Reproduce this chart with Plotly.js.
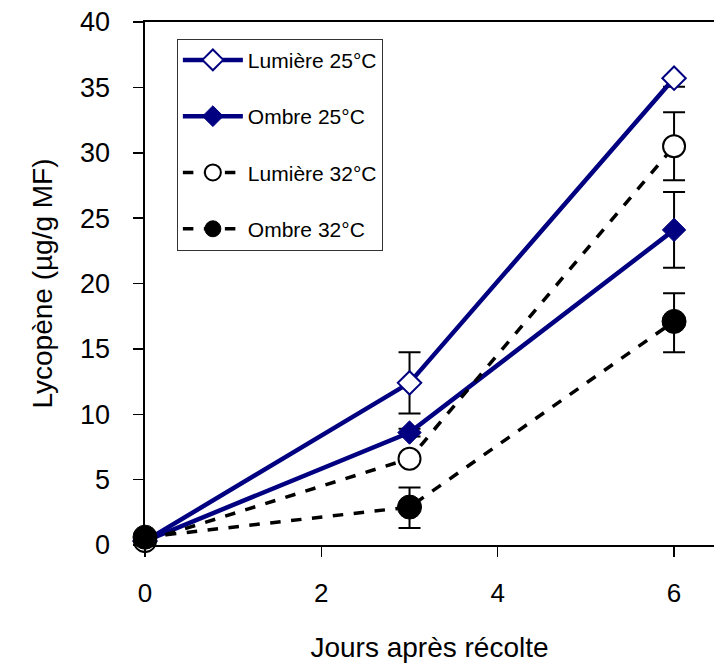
<!DOCTYPE html>
<html>
<head>
<meta charset="utf-8">
<script src="https://cdn.plot.ly/plotly-3.0.1.min.js"></script>
<style>html,body{margin:0;padding:0;background:#fff;}#chart{width:714px;height:668px;}</style>
</head>
<body>
<div id="chart"></div>
<script>
const days = [0, 3, 6];
const seriesNames = ["Lumière 25°C", "Ombre 25°C", "Lumière 32°C", "Ombre 32°C"];
const lumiere25 = [0.3, 12.4, 35.7];
const ombre25 = [0.3, 8.6, 24.1];
const lumiere32 = [0.3, 6.6, 30.5];
const ombre32 = [0.6, 2.9, 17.1];
const errUpLumiere25 = [0, 2.35, 0];
const errDownLumiere25 = [0, 2.35, 0.65];
const errUpOmbre25 = [0, 0.3, 2.9];
const errDownOmbre25 = [0, 0.3, 2.9];
const errUpLumiere32 = [0, 0.2, 2.6];
const errDownLumiere32 = [0, 0.2, 2.6];
const errUpOmbre32 = [0, 1.5, 2.15];
const errDownOmbre32 = [0, 1.6, 2.35];
const xTicks = [0, 2, 4, 6];
const yTicks = [0, 5, 10, 15, 20, 25, 30, 35, 40];

const navy = "#000080";
const font = "Liberation Sans, Arial, sans-serif";

function mk(name, y, up, down, lineOpts, markerOpts, group) {
  return {
    x: days, y: y, name: name, type: "scatter", mode: "lines+markers",
    legendgroup: group, cliponaxis: false,
    line: lineOpts, marker: markerOpts,
    error_y: {type: "data", symmetric: false, array: up, arrayminus: down, visible: true,
              color: "#000", thickness: 2, width: 11}
  };
}

const traces = [
  mk(seriesNames[0], lumiere25, errUpLumiere25, errDownLumiere25, {color: navy, width: 4.5},
     {symbol: "diamond", size: 18, color: "#fff", line: {color: navy, width: 2}}, "a"),
  mk(seriesNames[1], ombre25, errUpOmbre25, errDownOmbre25, {color: navy, width: 4.5},
     {symbol: "diamond", size: 18, color: navy, line: {color: navy, width: 1}}, "b"),
  mk(seriesNames[2], lumiere32, errUpLumiere32, errDownLumiere32, {color: "#000", width: 3.5, dash: "dash"},
     {symbol: "circle", size: 22, color: "#fff", line: {color: "#000", width: 2}}, "c"),
  mk(seriesNames[3], ombre32, errUpOmbre32, errDownOmbre32, {color: "#000", width: 3.5, dash: "dash"},
     {symbol: "circle", size: 24, color: "#000", line: {color: "#000", width: 1}}, "d")
];

const layout = {
  width: 714, height: 668,
  margin: {l: 145, r: 0, t: 22, b: 123},
  paper_bgcolor: "#fff", plot_bgcolor: "#fff",
  font: {family: font, color: "#000", size: 26},
  showlegend: true,
  legend: {
    x: 0.056, y: 0.968, xanchor: "left", yanchor: "top",
    bordercolor: "#333", borderwidth: 1, bgcolor: "#fff",
    font: {family: font, size: 21, color: "#000"},
    tracegroupgap: 26, itemwidth: 60
  },
  xaxis: {
    range: [0, 6.453], tickvals: xTicks, ticktext: xTicks.map(String),
    showgrid: false, zeroline: false, showline: true, linecolor: "#000", linewidth: 2,
    mirror: true, ticks: "outside", ticklen: 10, tickwidth: 1.5, tickcolor: "#000",
    tickfont: {family: font, size: 26}, ticklabelstandoff: 14,
    title: {text: "Jours après récolte", font: {family: font, size: 28}, standoff: 30}
  },
  yaxis: {
    range: [0, 40], tickvals: yTicks, ticktext: yTicks.map(String),
    showgrid: false, zeroline: false, showline: true, linecolor: "#000", linewidth: 2.5,
    ticks: "outside", ticklen: 10, tickwidth: 1.5, tickcolor: "#000",
    tickfont: {family: font, size: 27}, ticklabelstandoff: 17,
    title: {text: "Lycopène (µg/g MF)", font: {family: font, size: 28}, standoff: 20}
  }
};

Plotly.newPlot("chart", traces, layout, {displayModeBar: false, staticPlot: true});
</script>
</body>
</html>
